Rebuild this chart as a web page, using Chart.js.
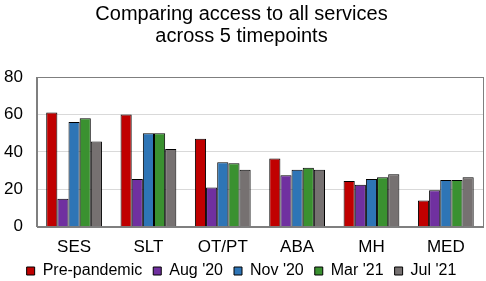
<!DOCTYPE html>
<html>
<head>
<meta charset="utf-8">
<script src="https://cdn.jsdelivr.net/npm/chart.js@4"></script>
<style>
  html, body { margin: 0; padding: 0; background: #fff; }
  #wrap { width: 486px; height: 281px; }
</style>
</head>
<body>
<div id="wrap"><canvas id="accessChart"></canvas></div>
<script>
var categories = ['SES', 'SLT', 'OT/PT', 'ABA', 'MH', 'MED'];
var prePandemic = [61, 60, 47, 36.5, 24.5, 14];
var aug20 = [15, 25.5, 21, 27.5, 22.5, 19.5];
var nov20 = [56, 50, 34.5, 30.5, 25.5, 25];
var mar21 = [58, 50, 34, 31.5, 26.5, 25];
var jul21 = [45.5, 41.5, 30.5, 30.5, 28, 26.5];
var yTicks = [0, 20, 40, 60, 80];

var ctx = document.getElementById('accessChart').getContext('2d');

// grey box round the plot area
var plotBorder = {
  id: 'plotBorder',
  afterDatasetsDraw: function (chart) {
    var a = chart.chartArea, c = chart.ctx;
    c.save();
    c.strokeStyle = '#7f7f7f';
    c.lineWidth = 1;
    c.strokeRect(Math.round(a.left) + 0.5, Math.round(a.top) + 0.5,
      Math.round(a.right - a.left), Math.round(a.bottom - a.top));
    c.restore();
  }
};

function ds(label, data, color) {
  return {
    label: label,
    data: data,
    backgroundColor: color,
    borderColor: '#000000',
    borderWidth: 1,
    borderSkipped: 'bottom',
    categoryPercentage: 0.75,
    barPercentage: 1.0
  };
}

new Chart(ctx, {
  type: 'bar',
  data: {
    labels: categories,
    datasets: [
      ds('Pre-pandemic', prePandemic, '#C00000'),
      ds("Aug '20", aug20, '#7030A0'),
      ds("Nov '20", nov20, '#2E75B6'),
      ds("Mar '21", mar21, '#3A9130'),
      ds("Jul '21", jul21, '#767171')
    ]
  },
  options: {
    responsive: true,
    maintainAspectRatio: false,
    animation: false,
    layout: { padding: { left: 0, right: 3, top: 0, bottom: -8 } },
    plugins: {
      title: {
        display: true,
        text: ['Comparing access to all services', 'across 5 timepoints'],
        color: '#000',
        font: { family: 'Liberation Sans', size: 20, weight: 'normal', lineHeight: 1.1 },
        padding: { top: 3, bottom: 30 }
      },
      legend: {
        position: 'bottom',
        labels: {
          color: '#000',
          font: { family: 'Liberation Sans', size: 16 },
          boxWidth: 8,
          boxHeight: 8,
          padding: 11,
          useBorderRadius: false
        }
      },
      tooltip: { enabled: false }
    },
    scales: {
      x: {
        grid: { display: false, tickLength: 15 },
        border: { color: '#7f7f7f' },
        ticks: { color: '#000', font: { family: 'Liberation Sans', size: 17, lineHeight: 0.6 }, padding: 0 }
      },
      y: {
        min: 0,
        max: 80,
        afterBuildTicks: function (axis) {
          axis.ticks = yTicks.map(function (v) { return { value: v }; });
        },
        // tick padding is counted twice in the axis width; take one back
        afterFit: function (axis) { axis.width -= 10; },
        grid: { color: '#d9d9d9', drawTicks: false },
        border: { color: '#7f7f7f' },
        ticks: { color: '#000', font: { family: 'Liberation Sans', size: 17 }, padding: 14 }
      }
    }
  },
  plugins: [plotBorder]
});
</script>
</body>
</html>
